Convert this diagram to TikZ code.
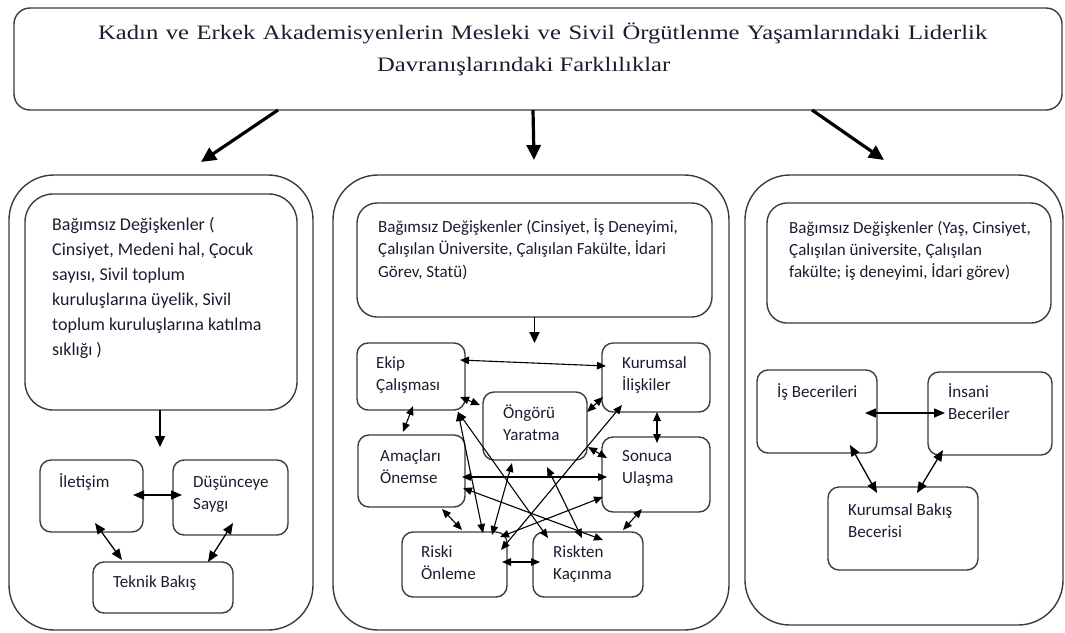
\documentclass[tikz,border=0pt]{standalone}
\usepackage{fontspec}
\setmainfont{Carlito}
\newfontfamily\titlefont[FakeStretch=1.2]{Liberation Serif}
\usetikzlibrary{arrows.meta,calc}
\definecolor{ink}{RGB}{28,28,48}
\definecolor{edge}{RGB}{60,60,60}

% rounded box given by its corners: name, x1, y1, x2, y2, style
\newcommand\boxat[6]{%
  \node[#6, minimum width={(#4)-(#2)}, minimum height={(#5)-(#3)}]
    (#1) at ({((#2)+(#4))/2},{((#3)+(#5))/2}) {};}
% text block: x, top, size, line distance, lines
\newcommand\txtat[5]{%
  \node[txt, font=\fontsize{#3}{#4}\selectfont] at (#1,#2) {\rule{0pt}{1em}#5};}

\begin{document}
\begin{tikzpicture}[x=1pt,y=-1pt,
  panel/.style={draw=edge, line width=1.4pt, rounded corners=45pt, outer sep=0pt, inner sep=0pt},
  bigbox/.style={draw=edge, line width=1.4pt, rounded corners=#1, outer sep=0pt, inner sep=0pt},
  bigbox/.default=20pt,
  smallbox/.style={draw=edge, line width=1.4pt, rounded corners=11pt, outer sep=0pt, inner sep=0pt},
  txt/.style={anchor=north west, inner sep=0pt, align=left, text=ink},
  thick arrow/.style={line width=3.2pt, -{Triangle[length=15pt,width=14pt]}},
  down arrow/.style={line width=1.9pt, -{Triangle[length=11pt,width=10pt]}},
  link/.style={line width=1.1pt, {Triangle[length=9pt,width=7.5pt]}-{Triangle[length=9pt,width=7.5pt]}},
  wlink/.style={line width=1.3pt, {Triangle[length=11pt,width=9pt]}-{Triangle[length=11pt,width=9pt]}},
]
\useasboundingbox (0,0) rectangle (1065,632);

% ---------- title ----------
\boxat{title}{14}{8}{1062}{110}{bigbox=16pt}
\node[txt, font=\titlefont\fontsize{20.5}{32}\selectfont] at (98,18.5)
  {\rule{0pt}{1em}\makebox[889pt][s]{Kadın ve Erkek Akademisyenlerin Mesleki ve Sivil Örgütlenme Yaşamlarındaki Liderlik}\\
   \hspace*{279pt}Davranışlarındaki Farklılıklar};

% ---------- three panels ----------
\boxat{lp}{9}{175}{313}{630}{panel}
\boxat{mp}{333}{175}{729}{630}{panel}
\boxat{rp}{745}{175}{1063}{625}{panel}

\draw[thick arrow] ($(title.south)+(-260,0)$) -- ($(lp.north)+(40,-13)$);
\draw[thick arrow] ($(title.south)+(-5,0)$) -- ($(mp.north)+(3,-15)$);
\draw[thick arrow] ($(title.south)+(274,0)$) -- ($(rp.north)+(-20,-15)$);

% ---------- left panel ----------
\boxat{lin}{25}{194}{297}{410}{bigbox=28pt}
\txtat{52}{212}{18}{25}{Bağımsız Değişkenler (\\Cinsiyet, Medeni hal, Çocuk\\sayısı, Sivil toplum\\kuruluşlarına üyelik, Sivil\\toplum kuruluşlarına katılma\\sıklığı )}

\boxat{ilet}{40}{460}{143}{532}{smallbox}
\boxat{dus}{173}{460}{288}{535}{smallbox}
\boxat{tek}{93}{562}{233}{613}{smallbox}
\txtat{59}{470}{17}{22.5}{İletişim}
\txtat{193}{470}{17}{22.5}{Düşünceye\\Saygı}
\txtat{113}{570}{17}{22.5}{Teknik Bakış}

\draw[down arrow] ($(lin.south)+(-1,0)$) -- ($(lin.south)+(-1,37)$);
\draw[wlink] ($(ilet.east)+(-10,-1)$) -- ($(dus.west)+(9,-2.5)$);
\draw[wlink] ($(ilet.south)+(3.5,-9)$) -- ($(tek.north)+(-41,-2)$);
\draw[wlink] ($(dus.south)+(2.5,-12)$) -- ($(tek.north)+(45,0)$);

% ---------- middle panel ----------
\boxat{min}{357}{203}{712}{317}{bigbox=20pt}
\txtat{378}{215}{17}{22.5}{Bağımsız Değişkenler (Cinsiyet, İş Deneyimi,\\Çalışılan Üniversite, Çalışılan Fakülte, İdari\\Görev, Statü)}
\draw[down arrow] (min.south) -- ($(min.south)+(0,26)$);

\boxat{ekip}{357}{343}{465}{410}{smallbox}
\boxat{kur}{602}{343}{710}{412}{smallbox}
\boxat{ong}{483}{392}{587}{460}{smallbox}
\boxat{ama}{358}{435}{465}{507}{smallbox}
\boxat{son}{602}{437}{710}{512}{smallbox}
\boxat{ris}{402}{532}{507}{597}{smallbox}
\boxat{rkc}{533}{532}{643}{597}{smallbox}
\txtat{376}{351}{17}{22.5}{Ekip\\Çalışması}
\txtat{622}{351}{17}{22.5}{Kurumsal\\İlişkiler}
\txtat{503}{401}{17}{22.5}{Öngörü\\Yaratma}
\txtat{380}{444}{17}{22.5}{Amaçları\\Önemse}
\txtat{622}{444}{17}{22.5}{Sonuca\\Ulaşma}
\txtat{421}{540}{17}{22.5}{Riski\\Önleme}
\txtat{553}{540}{17}{22.5}{Riskten\\Kaçınma}

\draw[link] ($(ekip.north east)+(-5,17)$) -- ($(kur.north west)+(4,23)$);
\draw[link] ($(ekip.south)+(2,-4)$) -- ($(ama.north)+(-8.5,-3)$);
\draw[link] ($(kur.south)+(1,0)$) -- ($(son.north)+(1,6)$);
\draw[link] ($(ris.east)+(-5,-2.5)$) -- ($(rkc.west)+(7,-2.5)$);
\draw[link] ($(ama.south east)+(-23,2)$) -- ($(ris.north)+(7.5,-2)$);
\draw[link] ($(son.south)+(-14,-3)$) -- ($(rkc.north east)+(-20,-2)$);
\draw[link] ($(ama.east)+(-3,6)$) -- ($(son.west)+(5,2.5)$);
\draw[link] ($(ekip.east)+(-5,20.5)$) -- ($(ong.north west)+(-3,13)$);
\draw[link] ($(kur.south west)+(1,-15)$) -- ($(ong.north east)+(0,20)$);
\draw[link] ($(ong.east)+(1,21)$) -- ($(son.west)+(5,-16.5)$);
\draw[link] ($(ekip.south east)+(-7,2)$) -- ($(ris.north)+(28.5,1)$);
\draw[link] ($(ekip.south east)+(-7,2)$) -- ($(rkc.north west)+(15,6)$);
\draw[link] ($(ong.south)+(-23,3)$) -- ($(ris.north)+(37.5,3)$);
\draw[link] ($(son.south west)+(1,-15)$) -- ($(ris.north east)+(-7,5)$);
\draw[link] ($(kur.south west)+(20,-7)$) -- ($(ris.east)+(-6,-14.5)$);
\draw[link] ($(ong.south)+(12,7)$) -- ($(rkc.north)+(-6,6)$);
\draw[link] ($(ama.east)+(-2,17)$) -- ($(rkc.north east)+(-40,8)$);

% ---------- right panel ----------
\boxat{rin}{767}{203}{1051}{323}{bigbox=20pt}
\txtat{789}{216}{17}{22}{Bağımsız Değişkenler (Yaş, Cinsiyet,\\Çalışılan üniversite, Çalışılan\\fakülte; iş deneyimi, İdari görev)}

\boxat{isb}{757}{370}{877}{453}{smallbox}
\boxat{ins}{928}{372}{1052}{455}{smallbox}
\boxat{kbb}{828}{487}{978}{570}{smallbox}
\txtat{777}{380}{17}{22.5}{İş Becerileri}
\txtat{948}{380}{17}{22.5}{İnsani\\Beceriler}
\txtat{848}{498}{17}{22.5}{Kurumsal Bakış\\Becerisi}

\draw[wlink] ($(isb.east)+(-12,1.5)$) -- ($(ins.west)+(17,-0.5)$);
\draw[wlink] ($(isb.south)+(33,-8)$) -- ($(kbb.north)+(-26,6)$);
\draw[wlink] ($(ins.south)+(-47,-5)$) -- ($(kbb.north)+(14,6)$);
\end{tikzpicture}
\end{document}
